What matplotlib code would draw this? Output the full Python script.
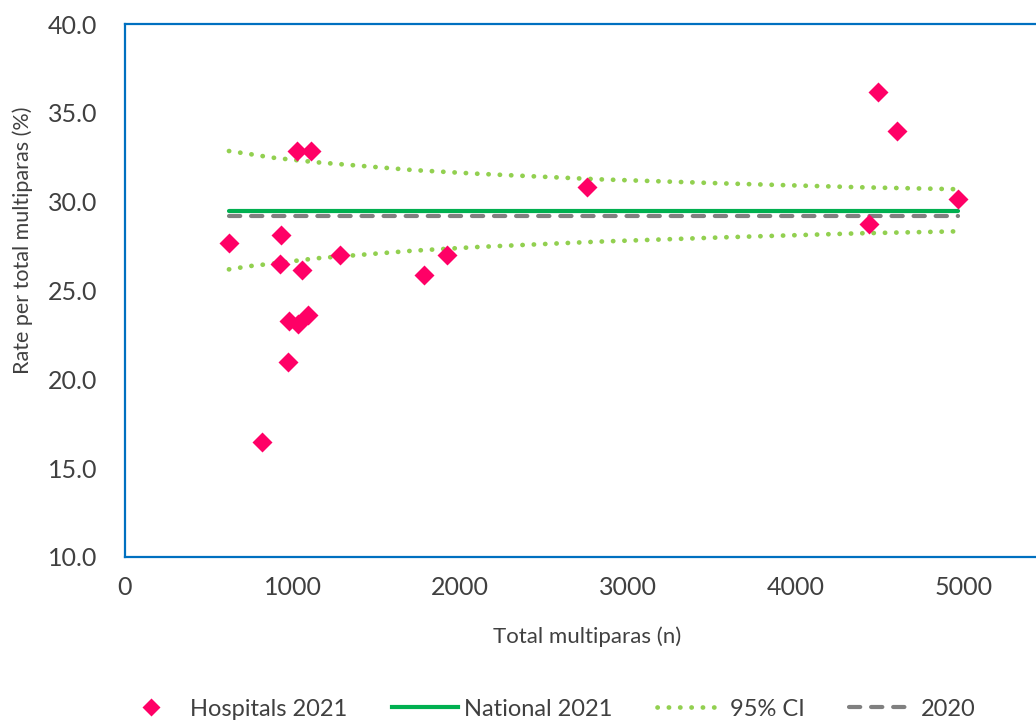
import numpy as np
import matplotlib
matplotlib.use('Agg')
import matplotlib.pyplot as plt
from matplotlib.lines import Line2D

plt.rcParams['font.family'] = ['Lato', 'DejaVu Sans']

# hospitals 2021: total multiparas (n) and rate (%)
hosp_n = [620, 817, 924, 930, 972, 978, 1026, 1031, 1056, 1091, 1109,
          1282, 1783, 1920, 2755, 4436, 4490, 4603, 4967]
hosp_rate = [27.7, 16.5, 26.5, 28.1, 21.0, 23.3, 32.85, 23.1, 26.15, 23.6, 32.85,
             27.0, 25.9, 27.0, 30.8, 28.75, 36.2, 34.0, 30.15]

national_2021 = 29.5
national_2020 = 29.2
line_n = [620, 4967]

# 95% CI limits
ci_n = [620, 750, 878, 1008, 1139, 1717, 2105, 2820, 3596, 4383, 4967]
ci_upper = [32.85, 32.67, 32.48, 32.35, 32.22, 31.78, 31.57, 31.26, 31.02, 30.81, 30.70]
ci_lower = [26.19, 26.38, 26.51, 26.66, 26.81, 27.24, 27.45, 27.75, 28.00, 28.22, 28.33]

pink = '#FF0066'
green = '#00B050'
lgreen = '#92D050'
grey = '#808080'
blue = '#0070C0'
txt = '#404040'

fig = plt.figure(figsize=(10.36, 7.22), dpi=100)
ax = fig.add_axes([125/1036, 1-557/722, 1006/1036, 533/722])

dots = (0, (0.05, 2.35))
dashes = (0, (2.7, 2.6))
ax.plot(ci_n, ci_upper, color=lgreen, lw=3.4, linestyle=dots, dash_capstyle='round', zorder=2)
ax.plot(ci_n, ci_lower, color=lgreen, lw=3.4, linestyle=dots, dash_capstyle='round', zorder=2)
ax.plot(line_n, [national_2021]*2, color=green, lw=3.0, solid_capstyle='round', zorder=3)
ax.plot(line_n, [national_2020]*2, color=grey, lw=3.0, linestyle=dashes, dash_capstyle='round', zorder=3)
ax.plot(hosp_n, hosp_rate, 'D', color=pink, ms=10, mec='none', zorder=4)

ax.set_xlim(0, 6000)
ax.set_ylim(10, 40)
ax.set_xticks(np.arange(0, 5001, 1000))
ax.set_yticks(np.arange(10, 41, 5))
ax.set_yticklabels([f'{v:.1f}' for v in np.arange(10, 41, 5)])
ax.tick_params(axis='both', length=0, labelsize=18, labelcolor=txt)
ax.tick_params(axis='x', pad=14)
ax.tick_params(axis='y', pad=20)

for s in ['left', 'top', 'bottom']:
    ax.spines[s].set_color(blue)
    ax.spines[s].set_linewidth(1.6)
ax.spines['right'].set_visible(False)

fig.text(587/1036, 1-637/722, 'Total multiparas (n)', ha='center', va='center',
         fontsize=16, color=txt)
fig.text(23/1036, 1-240/722, 'Rate per total multiparas (%)', ha='center', va='center',
         rotation=90, fontsize=15.5, color=txt)

handles = [
    Line2D([], [], marker='D', color=pink, ls='none', ms=9, mec='none'),
    Line2D([], [], color=green, lw=3.0),
    Line2D([], [], color=lgreen, lw=3.4, linestyle=dots, dash_capstyle='round'),
    Line2D([], [], color=grey, lw=3.0, linestyle=dashes, dash_capstyle='round'),
]
labels = ['Hospitals 2021', 'National 2021', '95% CI', '2020']
leg = fig.legend(handles, labels, loc='center', bbox_to_anchor=(547/1036, 1-709/722),
                 ncol=4, frameon=False, fontsize=17, handlelength=2.8,
                 handletextpad=0.25, columnspacing=1.9, labelcolor=txt)

fig.savefig('out.png', dpi=100)
